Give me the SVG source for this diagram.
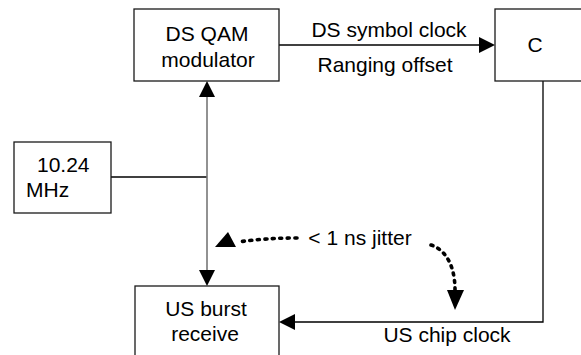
<svg xmlns="http://www.w3.org/2000/svg" width="581" height="355" viewBox="0 0 581 355">
<style>
.box{fill:#fff;stroke:#1a1a1a;stroke-width:1.3}
.t{font-family:"Liberation Sans",Arial,sans-serif;font-size:21px;fill:#000}
.m{text-anchor:middle}
.ln{fill:none;stroke:#000;stroke-width:1.3}
.gr{fill:none;stroke:#777;stroke-width:1.6}
.dot{fill:none;stroke:#000;stroke-width:3.6;stroke-linecap:round;stroke-dasharray:2 5.5}
.ah{fill:#000;stroke:none}
</style>
<rect width="581" height="355" fill="#fff"/>
<g id="connectors">
<line class="ln" x1="279" y1="45" x2="481" y2="45"/>
<polygon class="ah" points="495,45 479,37 479,53"/>
<polyline class="ln" points="543,81 543,322 294,322"/>
<polygon class="ah" points="279,322 295,314 295,330"/>
<line class="ln" x1="111" y1="177" x2="207" y2="177"/>
<line class="gr" x1="207" y1="96" x2="207" y2="271"/>
<polygon class="ah" points="207,81 199,97 215,97"/>
<polygon class="ah" points="207,286 199,270 215,270"/>
<path class="dot" d="M297,238 Q265,238 238,242"/>
<polygon class="ah" points="215,247 228,232 236,247"/>
<path class="dot" d="M431,245 C446,250 455,266 455,290"/>
<polygon class="ah" points="447,290 464,290 455,310"/>
</g>
<g id="ds-qam">
<rect class="box" x="134" y="9" width="145" height="72"/>
<text class="t m" x="207" y="41">DS QAM</text>
<text class="t m" x="208" y="67">modulator</text>
</g>
<g id="c">
<rect class="box" x="495" y="9" width="100" height="72"/>
<text class="t m" x="535" y="52">C</text>
</g>
<g id="clock-10-24">
<rect class="box" x="14" y="142" width="97" height="71"/>
<text class="t" x="37" y="172">10.24</text>
<text class="t" x="26" y="197">MHz</text>
</g>
<g id="us-burst">
<rect class="box" x="135" y="286" width="144" height="90"/>
<text class="t m" x="206" y="316">US burst</text>
<text class="t m" x="205" y="341">receive</text>
</g>
<g id="labels">
<text class="t m" x="389" y="37">DS symbol clock</text>
<text class="t m" x="385" y="72">Ranging offset</text>
<text class="t m" x="360" y="245">&lt; 1 ns jitter</text>
<text class="t m" x="447" y="342">US chip clock</text>
</g>
</svg>
